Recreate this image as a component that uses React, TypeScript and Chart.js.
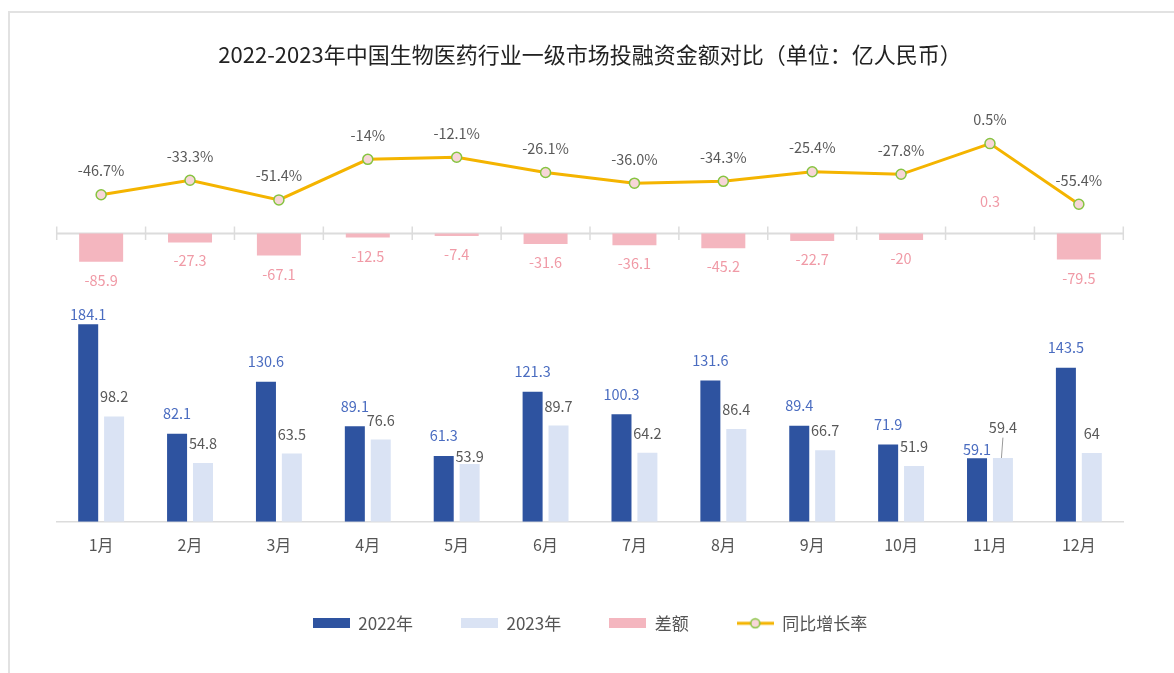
import React, { useEffect, useRef } from 'react';
import { Chart, registerables } from 'chart.js';

Chart.register(...registerables);

// ---------- data ----------
const months = ['1月', '2月', '3月', '4月', '5月', '6月', '7月', '8月', '9月', '10月', '11月', '12月'];
const amount2022 = [184.1, 82.1, 130.6, 89.1, 61.3, 121.3, 100.3, 131.6, 89.4, 71.9, 59.1, 143.5];
const amount2023 = [98.2, 54.8, 63.5, 76.6, 53.9, 89.7, 64.2, 86.4, 66.7, 51.9, 59.4, 64];
const difference = [-85.9, -27.3, -67.1, -12.5, -7.4, -31.6, -36.1, -45.2, -22.7, -20, 0.3, -79.5];
const growthRate = [-46.7, -33.3, -51.4, -14, -12.1, -26.1, -36.0, -34.3, -25.4, -27.8, 0.5, -55.4];
const growthText = ['-46.7%', '-33.3%', '-51.4%', '-14%', '-12.1%', '-26.1%', '-36.0%', '-34.3%', '-25.4%', '-27.8%', '0.5%', '-55.4%'];
const seriesNames = ['2022年', '2023年', '差额', '同比增长率'];
const chartTitle = '2022-2023年中国生物医药行业一级市场投融资金额对比（单位：亿人民币）';

// ---------- styles ----------
const FONT = '"Noto Sans CJK SC", "Noto Sans", sans-serif';
const C2022 = '#2e53a0';
const C2023 = '#dae3f4';
const CDIFF = '#f4b6bf';
const CLINE = '#f4b400';
const CPOINT_FILL = '#f7d6d8';
const CPOINT_BORDER = '#86c440';
const AXIS_COLOR = '#dcdcdc';

function rectIcon(color: string) {
  const c = document.createElement('canvas');
  c.width = 37;
  c.height = 10;
  const ctx = c.getContext('2d')!;
  ctx.fillStyle = color;
  ctx.fillRect(0, 0, 37, 10);
  return c;
}

function lineIcon() {
  const c = document.createElement('canvas');
  c.width = 37;
  c.height = 12;
  const ctx = c.getContext('2d')!;
  ctx.strokeStyle = CLINE;
  ctx.lineWidth = 3;
  ctx.beginPath();
  ctx.moveTo(0, 6);
  ctx.lineTo(37, 6);
  ctx.stroke();
  ctx.beginPath();
  ctx.arc(18.5, 6, 4.5, 0, Math.PI * 2);
  ctx.fillStyle = CPOINT_FILL;
  ctx.fill();
  ctx.lineWidth = 1.5;
  ctx.strokeStyle = CPOINT_BORDER;
  ctx.stroke();
  return c;
}

const overlayPlugin = {
  id: 'overlay',
  beforeDatasetsDraw(chart: any) {
    const x = chart.scales.x;
    const yd = chart.scales.yDiff;
    const ctx = chart.ctx;
    const y0 = yd.getPixelForValue(0);
    ctx.save();
    ctx.strokeStyle = AXIS_COLOR;
    ctx.lineWidth = 2;
    ctx.beginPath();
    ctx.moveTo(x.left, y0);
    ctx.lineTo(x.right, y0);
    ctx.stroke();
    ctx.lineWidth = 1.5;
    for (let i = 0; i <= months.length; i++) {
      const px = x.getPixelForValue(i - 0.5);
      ctx.beginPath();
      ctx.moveTo(px, y0 - 7);
      ctx.lineTo(px, y0 + 6.5);
      ctx.stroke();
    }
    ctx.restore();
  },
  afterDatasetsDraw(chart: any) {
    const ctx = chart.ctx;
    const yBar = chart.scales.yBar;
    const m0 = chart.getDatasetMeta(0);
    const m1 = chart.getDatasetMeta(1);
    const m2 = chart.getDatasetMeta(2);
    const m3 = chart.getDatasetMeta(3);
    ctx.save();
    ctx.textAlign = 'center';
    ctx.textBaseline = 'middle';
    ctx.font = `14.5px ${FONT}`;
    const labelH = 20.6;
    months.forEach((_, i) => {
      const a = m0.data[i];
      const b = m1.data[i];
      const ta = String(amount2022[i]);
      const tb = String(amount2023[i]);
      let ya = Math.max(a.y - 20, yBar.top + 12);
      let yb = Math.max(b.y - 19.5, yBar.top + 12);
      const wa = ctx.measureText(ta).width;
      const wb = ctx.measureText(tb).width;
      let leader = false;
      const hOverlap = Math.abs(b.x - a.x) < (wa + wb) / 2 + 2;
      if (hOverlap && Math.abs(ya - yb) < 12) {
        if (ya <= yb - 3) {
          yb = ya + labelH;
        } else {
          const mid = (ya + yb) / 2;
          ya = mid + labelH / 2 + 0.5;
          yb = mid - labelH / 2 - 0.5;
          leader = true;
        }
      }
      if (leader) {
        ctx.strokeStyle = '#9a9a9a';
        ctx.lineWidth = 1;
        ctx.beginPath();
        ctx.moveTo(b.x, yb + 10);
        ctx.lineTo(b.x - 1.5, b.y);
        ctx.stroke();
      }
      ctx.fillStyle = '#4a6cc0';
      ctx.fillText(ta, a.x, ya);
      ctx.fillStyle = '#595959';
      ctx.fillText(tb, b.x, yb);

      const d = m2.data[i];
      ctx.fillStyle = '#f09aa6';
      const dy = difference[i] >= 0 ? d.y - 32 : d.y + 18.5;
      ctx.fillText(String(difference[i]), d.x, dy);

      const p = m3.data[i];
      ctx.fillStyle = '#595959';
      ctx.fillText(growthText[i], p.x, p.y - 24);
    });
    ctx.restore();
  },
};

export default function App() {
  const canvasRef = useRef<HTMLCanvasElement | null>(null);

  useEffect(() => {
    document.body.style.margin = '0';
    const canvas = canvasRef.current;
    if (!canvas) return;
    const legendIcons = [rectIcon(C2022), rectIcon(C2023), rectIcon(CDIFF), lineIcon()];

    const chart = new Chart(canvas, {
      type: 'bar',
      data: {
        labels: months,
        datasets: [
          {
            label: seriesNames[0],
            data: amount2022,
            backgroundColor: C2022,
            yAxisID: 'yBar',
            categoryPercentage: 0.583,
            barPercentage: 0.772,
            order: 2,
          },
          {
            label: seriesNames[1],
            data: amount2023,
            backgroundColor: C2023,
            yAxisID: 'yBar',
            categoryPercentage: 0.583,
            barPercentage: 0.772,
            order: 2,
          },
          {
            label: seriesNames[2],
            data: difference,
            backgroundColor: CDIFF,
            yAxisID: 'yDiff',
            grouped: false,
            categoryPercentage: 0.5,
            barPercentage: 0.99,
            order: 2,
          } as any,
          {
            type: 'line',
            label: seriesNames[3],
            data: growthRate,
            yAxisID: 'yLine',
            borderColor: CLINE,
            borderWidth: 3,
            pointRadius: 5,
            pointBorderWidth: 1.5,
            pointBackgroundColor: CPOINT_FILL,
            pointBorderColor: CPOINT_BORDER,
            tension: 0,
            order: 0,
          } as any,
        ],
      },
      options: {
        responsive: false,
        animation: false,
        events: [],
        layout: {
          padding: { left: 56.7, right: 50.7, top: 0, bottom: 31.2 },
        },
        scales: {
          x: {
            type: 'category',
            offset: true,
            grid: { display: false, drawTicks: false },
            border: { display: true, color: AXIS_COLOR, width: 1.5 },
            ticks: {
              color: '#555',
              font: { family: FONT, size: 16 },
              padding: 13.7,
            },
            afterFit: (scale: any) => {
              scale.height = 45.1;
            },
          },
          yLine: {
            type: 'linear',
            display: false,
            position: 'left',
            stack: 'panels',
            stackWeight: 146,
            weight: 3,
            min: -75.5,
            max: 59.2,
          },
          yDiff: {
            type: 'linear',
            display: false,
            position: 'left',
            stack: 'panels',
            stackWeight: 76,
            weight: 2,
            min: -208.8,
            max: 22.9,
          },
          yBar: {
            type: 'linear',
            display: false,
            position: 'left',
            stack: 'panels',
            stackWeight: 219.7,
            weight: 1,
            min: 0,
            max: 204.9,
          },
        } as any,
        plugins: {
          tooltip: { enabled: false },
          title: {
            display: true,
            text: chartTitle,
            color: '#222',
            font: { family: FONT, size: 22, weight: 'normal' },
            padding: { top: 41.3, bottom: 12.3 },
          },
          legend: {
            display: true,
            position: 'bottom',
            labels: {
              usePointStyle: true,
              pointStyleWidth: 37,
              padding: 48,
              color: '#555',
              font: { family: FONT, size: 17 },
              generateLabels: () =>
                seriesNames.map((name, i) => ({
                  text: name,
                  pointStyle: legendIcons[i],
                  fillStyle: 'transparent',
                  strokeStyle: 'transparent',
                  lineWidth: 0,
                  hidden: false,
                  datasetIndex: i,
                  fontColor: '#555',
                })) as any,
            },
          },
        },
      } as any,
      plugins: [overlayPlugin],
    });

    return () => {
      chart.destroy();
    };
  }, []);

  return (
    <div style={{ position: 'relative', width: 1174, height: 673, overflow: 'hidden', background: '#fff' }}>
      <div
        style={{
          position: 'absolute',
          left: 8,
          top: 11,
          right: 0,
          bottom: 0,
          borderTop: '2px solid #e2e2e2',
          borderLeft: '2px solid #e2e2e2',
        }}
      />
      <canvas
        ref={canvasRef}
        width={1174}
        height={673}
        style={{ position: 'absolute', left: 0, top: 0, display: 'block' }}
      />
    </div>
  );
}
